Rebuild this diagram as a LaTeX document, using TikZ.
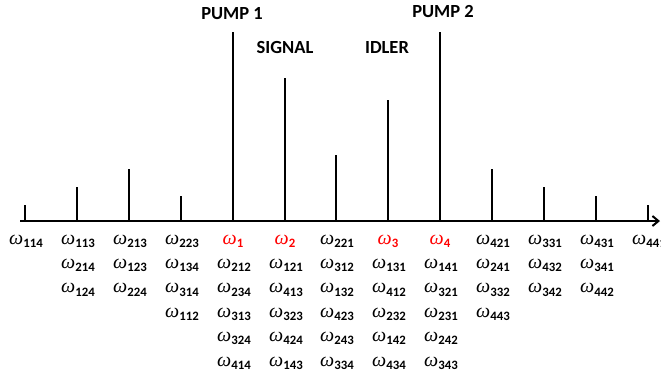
\documentclass[tikz,border=0pt]{standalone}
\usepackage{fontspec}
\setmainfont{Carlito}
\newfontfamily\omfont{Liberation Serif}
\usetikzlibrary{arrows.meta}
\newcommand\omg[1]{{\omfont\fontsize{20}{20}\selectfont\itshape ω}\kern0.3pt\lower3.2pt\hbox{\fontsize{12.8}{12.8}\selectfont\bfseries #1}}
\tikzset{
  tick/.style={line width=2pt},
  axisline/.style={line width=2.4pt,-{Straight Barb[length=6pt,width=10pt,line width=2pt]}},
  toplab/.style={font=\fontsize{18.5}{18.5}\selectfont\bfseries,anchor=base,inner sep=0pt},
  omlab/.style={anchor=base,inner sep=0pt},
  redlab/.style={omlab,text=red}
}
\begin{document}
\begin{tikzpicture}[x=1pt,y=-1pt]
\useasboundingbox (0,0) rectangle (661,376);
% ticks
\foreach \i/\xx/\top in {0/25/205,1/77/187,2/129/169,3/181/196,4/233/32,5/285/78,6/336/155,7/388/100,8/440/32,9/492/169,10/544/187,11/596/196,12/648/205}{
  \coordinate (b\i) at (\xx,221);
  \coordinate (t\i) at (\xx,\top);
  \draw[tick] (b\i) -- (t\i);
}
\coordinate (axs) at (20,221);
\coordinate (axe) at (660,221);
\draw[axisline] (axs) -- (axe);
% top labels
\node[toplab] (p1) at (232,19) {PUMP 1};
\node[toplab] (p2) at (443,17) {PUMP 2};
\node[toplab] (sig) at (285,53) {SIGNAL};
\node[toplab] (idl) at (387,53) {IDLER};
% omega labels
\foreach \i/\xx/\lst in {0/25/{114},1/77/{113,214,124},2/129/{213,123,224},3/181/{223,134,314,112},6/336/{221,312,132,423,243,334},9/492/{421,241,332,443},10/544/{331,432,342},11/596/{431,341,442},12/648/{441}}{
  \foreach \s [count=\k from 0] in \lst {
    \node[omlab] (w\i-\k) at (\xx+1,244+24.4*\k) {\omg{\s}};
  }
}
\foreach \i/\xx/\r/\lst in {4/233/1/{212,234,313,324,414},5/285/2/{121,413,323,424,143},7/388/3/{131,412,232,142,434},8/440/4/{141,321,231,242,343}}{
  \node[redlab] (r\i) at (\xx,244) {\omg{\r}};
  \foreach \s [count=\k from 1] in \lst {
    \node[omlab] (w\i-\k) at (\xx+1,244+24.4*\k) {\omg{\s}};
  }
}
\end{tikzpicture}
\end{document}
